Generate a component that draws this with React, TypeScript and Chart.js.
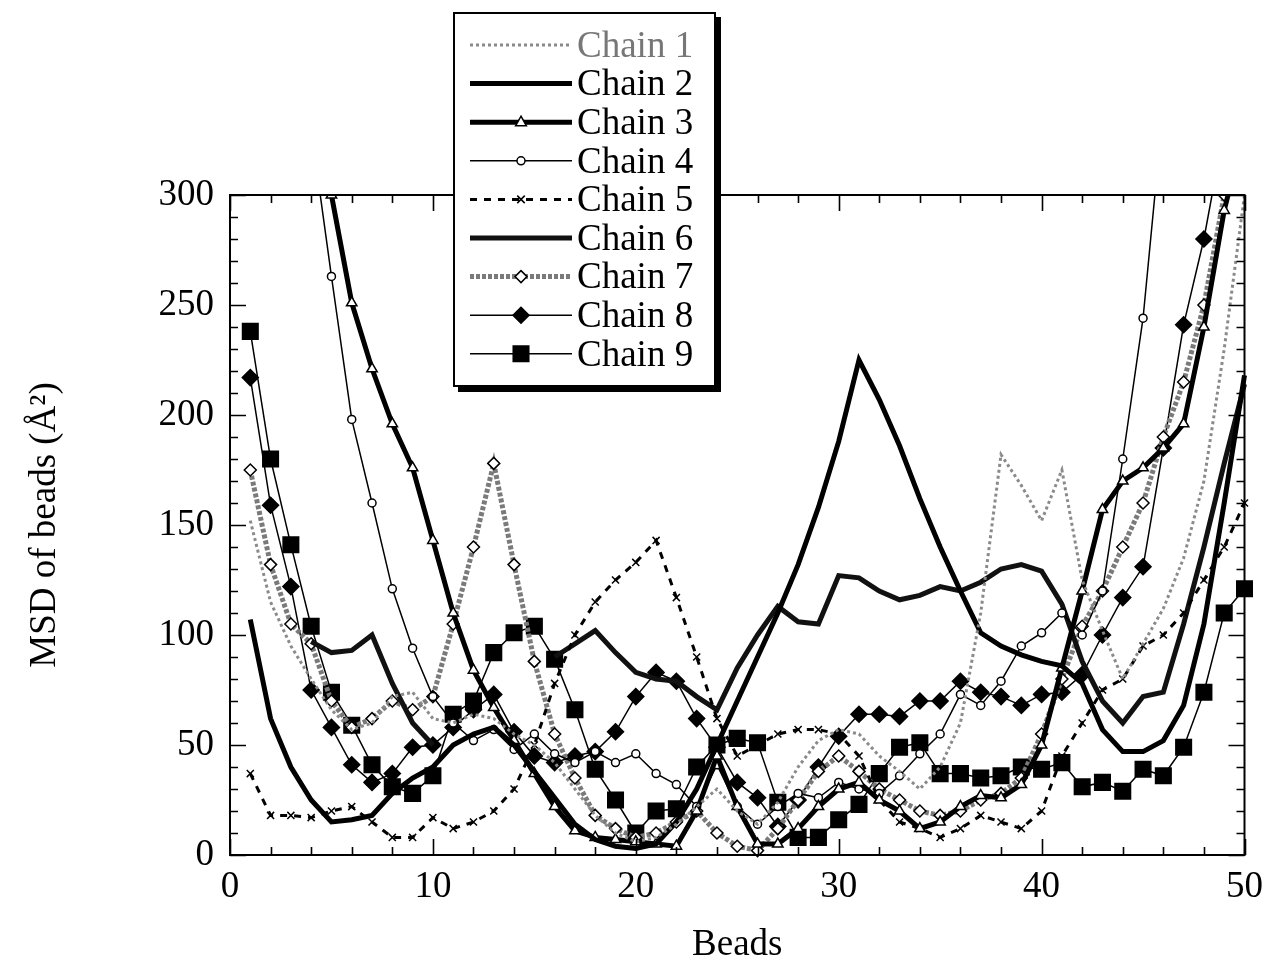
import React, { useEffect, useRef } from 'react';
import { Chart, registerables } from 'chart.js';

Chart.register(...registerables);

const beads = [1, 2, 3, 4, 5, 6, 7, 8, 9, 10, 11, 12, 13, 14, 15, 16, 17, 18, 19, 20, 21, 22, 23, 24, 25, 26, 27, 28, 29, 30, 31, 32, 33, 34, 35, 36, 37, 38, 39, 40, 41, 42, 43, 44, 45, 46, 47, 48, 49, 50];

const chain1 = [152, 115, 95, 80, 66, 57, 60, 72, 74, 62, 60, 64, 62, 55, 50, 42, 30, 18, 10, 6, 8, 14, 22, 30, 20, 14, 24, 40, 52, 57, 55, 45, 38, 30, 40, 60, 110, 182, 168, 152, 175, 125, 102, 80, 96, 112, 135, 170, 230, 300];
const chain2 = [107, 62, 40, 25, 15, 16, 18, 28, 35, 40, 50, 55, 58, 50, 38, 26, 14, 7, 4, 3, 5, 15, 30, 50, 70, 90, 110, 132, 158, 188, 225, 207, 186, 162, 140, 120, 101, 95, 91, 88, 86, 78, 57, 47, 47, 52, 68, 105, 160, 218];
const chain3 = [null, null, null, 360, 300, 251, 221, 196, 176, 143, 110, 84, 67, 52, 37, 22, 11, 8, 7, 6, 5, 4, 20, 45, 22, 5, 5, 12, 22, 30, 33, 25, 20, 12, 15, 22, 27, 26, 32, 50, 85, 120, 157, 170, 176, 185, 196, 240, 293, 330];
const chain4 = [null, null, null, 330, 263, 198, 160, 121, 94, 72, 60, 52, 57, 48, 55, 46, 42, 47, 42, 46, 37, 32, 22, 41, 22, 14, 22, 28, 26, 33, 30, 28, 36, 46, 55, 73, 68, 79, 95, 101, 110, 100, 120, 180, 244, 340, null, null, null, null];
const chain5 = [37, 18, 18, 17, 20, 22, 15, 8, 8, 17, 12, 15, 20, 30, 50, 78, 100, 115, 125, 133, 143, 117, 90, 62, 45, 50, 55, 57, 57, 55, 45, 25, 15, 12, 8, 12, 18, 15, 12, 20, 45, 60, 75, 80, 95, 100, 110, 125, 140, 160];
const chain6 = [null, null, null, 97, 92, 93, 100, 78, 60, 50, null, null, null, null, null, 90, 96, 102, 92, 83, 80, 79, 72, 66, 85, 100, 113, 106, 105, 127, 126, 120, 116, 118, 122, 120, 124, 130, 132, 129, 114, 88, 70, 60, 72, 74, 105, 140, 178, 214];
const chain7 = [175, 132, 105, 96, 70, 58, 62, 70, 66, 72, 105, 140, 178, 132, 88, 55, 35, 18, 12, 8, 10, 15, 20, 10, 4, 2, 12, 25, 38, 45, 38, 30, 25, 20, 18, 20, 25, 28, 35, 55, 80, 104, 120, 140, 160, 190, 215, 250, 300, 330];
const chain8 = [217, 159, 122, 75, 58, 41, 33, 37, 49, 50, 58, 66, 73, 56, 45, 42, 45, 47, 56, 72, 83, 79, 62, 49, 33, 26, 13, 25, 40, 54, 64, 64, 63, 70, 70, 79, 74, 72, 68, 73, 74, 82, 100, 117, 131, 185, 241, 280, 330, null];
const chain9 = [238, 180, 141, 104, 74, 59, 41, 31, 28, 36, 64, 70, 92, 101, 104, 89, 66, 39, 25, 10, 20, 21, 40, 50, 53, 51, 24, 8, 8, 16, 23, 37, 49, 51, 37, 37, 35, 36, 40, 39, 42, 31, 33, 29, 39, 36, 49, 74, 110, 121];

const seriesNames = ['Chain 1', 'Chain 2', 'Chain 3', 'Chain 4', 'Chain 5', 'Chain 6', 'Chain 7', 'Chain 8', 'Chain 9'];
const xTickValues = [0, 10, 20, 30, 40, 50];
const yTickValues = [0, 50, 100, 150, 200, 250, 300];

const FONT = '"Liberation Serif", "DejaVu Serif", serif';

type Style = {
  color: string;
  width: number;
  dash: number[];
  point: string;
  radius: number;
  fill: string;
};

const styles: Style[] = [
  { color: '#8a8a8a', width: 3, dash: [3, 3], point: 'circle', radius: 0, fill: '#8a8a8a' },
  { color: '#000000', width: 5, dash: [], point: 'circle', radius: 0, fill: '#000' },
  { color: '#000000', width: 5, dash: [], point: 'triangle', radius: 6, fill: '#ffffff' },
  { color: '#000000', width: 1.5, dash: [], point: 'circle', radius: 4, fill: '#ffffff' },
  { color: '#000000', width: 3, dash: [7, 7], point: 'crossRot', radius: 5, fill: '#000' },
  { color: '#111111', width: 5, dash: [], point: 'circle', radius: 0, fill: '#000' },
  { color: '#7a7a7a', width: 5, dash: [4, 2], point: 'rectRot', radius: 6, fill: '#ffffff' },
  { color: '#000000', width: 1.5, dash: [], point: 'rectRot', radius: 8, fill: '#000000' },
  { color: '#000000', width: 1.5, dash: [], point: 'rect', radius: 11, fill: '#000000' },
];

const allSeries = [chain1, chain2, chain3, chain4, chain5, chain6, chain7, chain8, chain9];

function drawMarker(ctx: CanvasRenderingContext2D, s: Style, x: number, y: number) {
  const r = s.radius;
  if (r <= 0) return;
  ctx.save();
  ctx.setLineDash([]);
  ctx.lineWidth = 1.5;
  ctx.strokeStyle = '#000';
  ctx.fillStyle = s.fill;
  ctx.beginPath();
  if (s.point === 'triangle') {
    ctx.moveTo(x, y - r);
    ctx.lineTo(x + r * 0.9, y + r * 0.6);
    ctx.lineTo(x - r * 0.9, y + r * 0.6);
    ctx.closePath();
    ctx.fill();
    ctx.stroke();
  } else if (s.point === 'circle') {
    ctx.arc(x, y, r, 0, Math.PI * 2);
    ctx.fill();
    ctx.stroke();
  } else if (s.point === 'crossRot') {
    const d = r * 0.75;
    ctx.moveTo(x - d, y - d);
    ctx.lineTo(x + d, y + d);
    ctx.moveTo(x + d, y - d);
    ctx.lineTo(x - d, y + d);
    ctx.stroke();
  } else if (s.point === 'rectRot') {
    ctx.moveTo(x, y - r);
    ctx.lineTo(x + r, y);
    ctx.lineTo(x, y + r);
    ctx.lineTo(x - r, y);
    ctx.closePath();
    ctx.fill();
    ctx.stroke();
  } else if (s.point === 'rect') {
    const h = r * Math.SQRT1_2;
    ctx.rect(x - h, y - h, 2 * h, 2 * h);
    ctx.fill();
    ctx.stroke();
  }
  ctx.restore();
}

const framePlugin = {
  id: 'frameTicks',
  afterDatasetsDraw(chart: any) {
    const { ctx, chartArea, scales } = chart;
    const { left, right, top, bottom } = chartArea;
    const xs = scales.x;
    const ys = scales.y;
    ctx.save();
    ctx.strokeStyle = '#000';
    ctx.lineWidth = 2;
    ctx.strokeRect(left, top, right - left, bottom - top);
    ctx.lineWidth = 1.6;
    ctx.beginPath();
    for (let v = 0; v <= 50; v += 2) {
      const px = Math.round(xs.getPixelForValue(v)) + 0.5;
      const L = v % 10 === 0 ? 16 : 8;
      ctx.moveTo(px, bottom);
      ctx.lineTo(px, bottom - L);
      ctx.moveTo(px, top);
      ctx.lineTo(px, top + L);
    }
    for (let v = 0; v <= 300; v += 10) {
      const py = Math.round(ys.getPixelForValue(v)) + 0.5;
      const L = v % 50 === 0 ? 16 : 8;
      ctx.moveTo(left, py);
      ctx.lineTo(left + L, py);
      ctx.moveTo(right, py);
      ctx.lineTo(right - L, py);
    }
    ctx.stroke();
    ctx.restore();
  },
};

const legendPlugin = {
  id: 'boxLegend',
  afterDraw(chart: any) {
    const ctx: CanvasRenderingContext2D = chart.ctx;
    const bx = 453, by = 12, bw = 263, bh = 375;
    ctx.save();
    ctx.fillStyle = '#000';
    ctx.fillRect(bx + 5, by + 5, bw, bh);
    ctx.fillStyle = '#fff';
    ctx.fillRect(bx, by, bw, bh);
    ctx.strokeStyle = '#000';
    ctx.lineWidth = 2;
    ctx.strokeRect(bx + 1, by + 1, bw - 2, bh - 2);
    ctx.font = `37px ${FONT}`;
    ctx.textBaseline = 'middle';
    ctx.textAlign = 'left';
    for (let i = 0; i < seriesNames.length; i++) {
      const s = styles[i];
      const y = 45 + i * 38.6;
      ctx.save();
      ctx.strokeStyle = s.color;
      ctx.lineWidth = s.width;
      ctx.setLineDash(s.dash);
      ctx.beginPath();
      ctx.moveTo(470, y);
      ctx.lineTo(572, y);
      ctx.stroke();
      ctx.restore();
      drawMarker(ctx, s, 521, y);
      ctx.fillStyle = i === 0 ? '#777' : '#000';
      ctx.fillText(seriesNames[i], 577, y + 2);
    }
    ctx.restore();
  },
};

export default function App() {
  const ref = useRef<HTMLCanvasElement>(null);
  useEffect(() => {
    document.body.style.margin = '0';
    const canvas = ref.current;
    if (!canvas) return;
    const datasets = allSeries.map((arr, i) => {
      const s = styles[i];
      return {
        label: seriesNames[i],
        data: beads.map((b, j) => ({ x: b, y: arr[j] })),
        borderColor: s.color,
        borderWidth: s.width,
        borderDash: s.dash,
        pointStyle: s.point,
        pointRadius: s.radius,
        pointBorderColor: '#000',
        pointBorderWidth: 1.5,
        pointBackgroundColor: s.fill,
        tension: 0,
        spanGaps: false,
        fill: false,
        clip: { left: 12, right: 15, top: 0, bottom: 10 },
      };
    });
    const chart = new Chart(canvas, {
      type: 'line',
      data: { datasets } as any,
      options: {
        responsive: false,
        devicePixelRatio: 1,
        animation: false,
        events: [],
        layout: { padding: { top: 195, right: 26, bottom: 0, left: 0 } },
        plugins: {
          legend: { display: false },
          tooltip: { enabled: false },
        },
        scales: {
          x: {
            type: 'linear',
            min: 0,
            max: 50,
            afterFit: (scale: any) => { scale.height = 114; },
            afterBuildTicks: (scale: any) => { scale.ticks = xTickValues.map((v) => ({ value: v })); },
            grid: { display: false, drawTicks: false },
            border: { display: false },
            ticks: { color: '#000', font: { family: FONT, size: 37 }, padding: 10, maxRotation: 0 },
            title: { display: true, text: 'Beads', color: '#000', font: { family: FONT, size: 37 }, padding: { top: 0, bottom: 2 } },
          },
          y: {
            type: 'linear',
            min: 0,
            max: 300,
            afterFit: (scale: any) => { scale.width = 230; },
            afterBuildTicks: (scale: any) => { scale.ticks = yTickValues.map((v) => ({ value: v })); },
            grid: { display: false, drawTicks: false },
            border: { display: false },
            ticks: { color: '#000', font: { family: FONT, size: 37 }, padding: 16 },
            title: { display: true, text: 'MSD of beads (Å²)', color: '#000', font: { family: FONT, size: 37 }, padding: { top: 23, bottom: 0 } },
          },
        },
      } as any,
      plugins: [framePlugin, legendPlugin],
    });
    return () => chart.destroy();
  }, []);
  return (
    <div style={{ width: 1273, height: 969, background: '#fff' }}>
      <canvas ref={ref} width={1273} height={969} style={{ display: 'block' }} />
    </div>
  );
}
